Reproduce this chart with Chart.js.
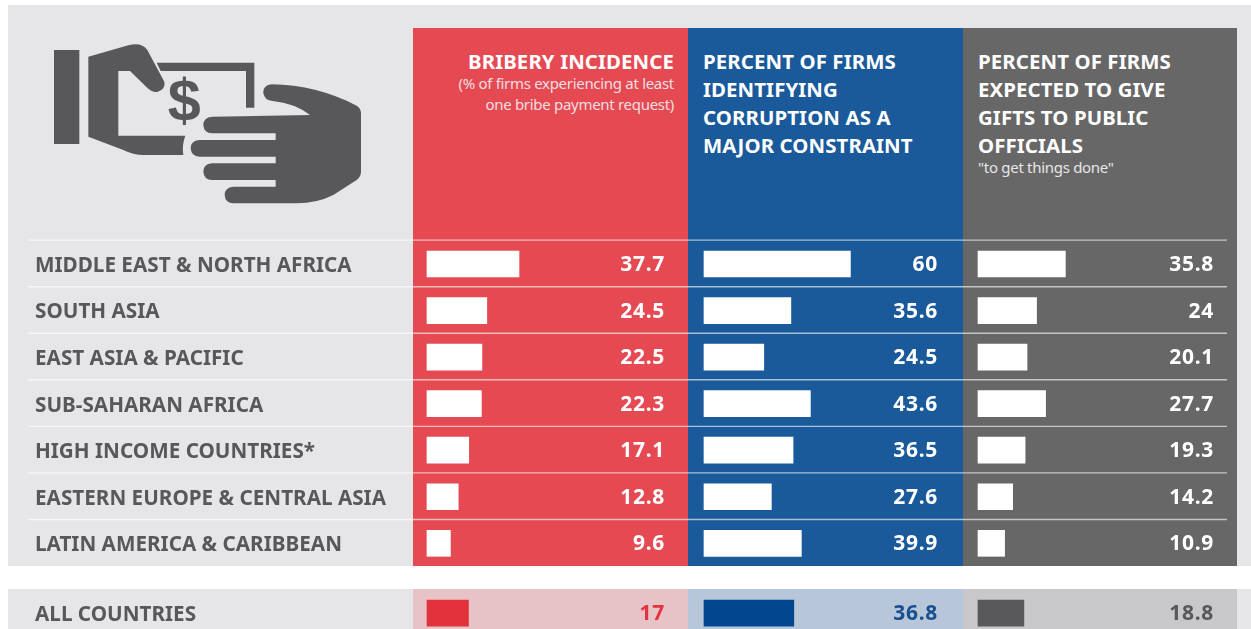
<!DOCTYPE html>
<html><head><meta charset="utf-8">
<script src="https://cdn.jsdelivr.net/npm/chart.js@4"></script>
<style>
html,body{margin:0;padding:0;background:#fff;overflow:hidden}
#stage{position:relative;width:1251px;height:629px;overflow:hidden;font-family:"Noto Sans",sans-serif;color:#fff}
#stage div{position:absolute}
canvas{position:absolute;left:0;top:0}
.h{font-weight:700;font-size:20.4px;line-height:28px;white-space:nowrap;letter-spacing:.1px}
.s{font-size:15px;line-height:20.5px;color:#f1dfe0;white-space:nowrap;letter-spacing:-.3px}
</style></head><body>
<div id="stage">
<div style="left:8px;top:5px;width:1243px;height:561px;background:#e6e6e8"></div>
<div style="left:8px;top:589px;width:1243px;height:40px;background:#e6e6e8"></div>
<div style="left:413px;top:28px;width:275px;height:538px;background:#e54a53"></div>
<div style="left:688px;top:28px;width:275px;height:538px;background:#1a5a9a"></div>
<div style="left:963px;top:28px;width:274px;height:538px;background:#676768"></div>
<div style="left:413px;top:589px;width:275px;height:40px;background:#e7c2c7"></div>
<div style="left:688px;top:589px;width:275px;height:40px;background:#b7c6d9"></div>
<div style="left:963px;top:589px;width:274px;height:40px;background:#c8c8ca"></div>

<svg style="position:absolute;left:0;top:0" width="420" height="250" viewBox="0 0 1260 750" fill="#58585a">
<rect x="162" y="150" width="76" height="282"/>
<path d="M265 170 L385 136 Q425 126 442 150 L493 245 Q498 268 472 276 Q455 278 440 262 L390 213 L355 213 L355 407 L556 407 Q545 435 550 465 L430 465 Q400 465 370 450 L265 410 Z"/>
<path d="M470 188 L763 188 L763 323 L738 323 L738 213 L482 213 Z"/>
<text x="553" y="362" text-anchor="middle" font-family="Liberation Sans" font-weight="700" font-size="178">$</text>
<path d="M815 253 Q788 256 790 280 Q794 302 818 303 Q885 310 930 345 L636 350 Q610 352 610 375 Q612 400 636 400 L827 400 L827 420 L598 420 Q572 422 572 445 Q574 470 598 470 L827 470 L827 490 L636 490 Q610 492 610 515 Q612 540 636 540 L827 540 L827 560 L700 560 Q674 562 674 585 Q676 610 700 610 L890 610 Q950 610 1000 585 L1070 540 Q1083 530 1083 515 L1083 340 Q1083 325 1070 317 Q950 255 815 253 Z"/>
</svg>

<div class="h" style="right:577px;top:47px;text-align:right">BRIBERY INCIDENCE</div>
<div class="s" style="right:577px;top:73px;text-align:right">(% of firms experiencing at least<br>one bribe payment request)</div>
<div class="h" style="left:703px;top:47px">PERCENT OF FIRMS<br>IDENTIFYING<br>CORRUPTION AS A<br>MAJOR CONSTRAINT</div>
<div class="h" style="left:978px;top:47px">PERCENT OF FIRMS<br>EXPECTED TO GIVE<br>GIFTS TO PUBLIC<br>OFFICIALS</div>
<div class="s" style="left:978px;top:157px;color:#e6e6e6">"to get things done"</div>

<canvas id="c" width="1251" height="629"></canvas>
</div>
<script>
const categories = ["MIDDLE EAST & NORTH AFRICA","SOUTH ASIA","EAST ASIA & PACIFIC","SUB-SAHARAN AFRICA","HIGH INCOME COUNTRIES*","EASTERN EUROPE & CENTRAL ASIA","LATIN AMERICA & CARIBBEAN","ALL COUNTRIES"];
const bribery = [37.7,24.5,22.5,22.3,17.1,12.8,9.6,17];
const corruption = [60,35.6,24.5,43.6,36.5,27.6,39.9,36.8];
const gifts = [35.8,24,20.1,27.7,19.3,14.2,10.9,18.8];
const rowSlots = [0,1,2,3,4,5,6,7.5];

const AREA_L = 413, AREA_R = 1237, PX_PER_UNIT = 2.44;
const ROW_H = 46.55, ROW0_Y = 264;
const xRange = base => ({min:-(base-AREA_L)/PX_PER_UNIT, max:(AREA_R-base)/PX_PER_UNIT});
const hidden = r => ({type:'linear',display:false,bounds:'data',min:r.min,max:r.max,grid:{display:false}});
const series = [
  {id:'x1',values:bribery,base:427,right:665,last:'#e2333d',text:'#e2343f'},
  {id:'x2',values:corruption,base:704,right:938,last:'#02468f',text:'#17508f'},
  {id:'x3',values:gifts,base:978,right:1214,last:'#59595b',text:'#58585a'}
];
const overlay = {
  id:'overlay',
  beforeDatasetsDraw(ch){
    const c=ch.ctx, y=ch.scales.y;
    c.save();
    c.strokeStyle='rgba(255,255,255,.62)'; c.lineWidth=1.4;
    for(let i=0;i<7;i++){
      const py=y.getPixelForValue(i-0.5)-0.6;
      c.beginPath(); c.moveTo(28,py); c.lineTo(1227,py); c.stroke();
    }
    c.restore();
  },
  afterDatasetsDraw(ch){
    const c=ch.ctx, y=ch.scales.y;
    c.save();
    c.font='700 21px "Noto Sans"'; c.textAlign='right'; c.textBaseline='middle'; c.letterSpacing='0.7px';
    series.forEach(s=>{
      s.values.forEach((v,i)=>{
        c.fillStyle = i===7 ? s.text : '#fff';
        c.fillText(String(v), s.right, y.getPixelForValue(rowSlots[i])+1);
      });
    });
    c.restore();
  }
};
new Chart(document.getElementById('c'),{
  type:'bar',
  data:{datasets:series.map(s=>({
    xAxisID:s.id,
    yAxisID:'y',
    data:s.values.map((v,i)=>({x:v,y:rowSlots[i]})),
    backgroundColor:s.values.map((v,i)=>i===7?s.last:'#ffffff'),
    borderWidth:0,
    barThickness:26,
    grouped:false
  }))},
  options:{
    indexAxis:'y',responsive:false,animation:false,
    layout:{padding:{left:35,right:1251-AREA_R,top:0,bottom:0}},
    plugins:{legend:{display:false},tooltip:{enabled:false}},
    scales:{
      x1:hidden(xRange(427)),x2:hidden(xRange(704)),x3:hidden(xRange(978)),
      y:{type:'linear',reverse:true,bounds:'data',offset:false,
        min:-ROW0_Y/ROW_H,max:(629-ROW0_Y)/ROW_H,
        grid:{display:false},border:{display:false},
        afterBuildTicks(s){s.ticks=rowSlots.map(v=>({value:v}));},
        afterFit(s){s.width=AREA_L-35;s.paddingTop=0;s.paddingBottom=0;},
        ticks:{autoSkip:false,crossAlign:'far',padding:0,color:'#58585a',labelOffset:2,
          font:{family:'"Noto Sans"',weight:'700',size:20.7},
          callback:(v,i)=>categories[i]}
      }
    }
  },
  plugins:[overlay]
});
</script>
</body></html>
